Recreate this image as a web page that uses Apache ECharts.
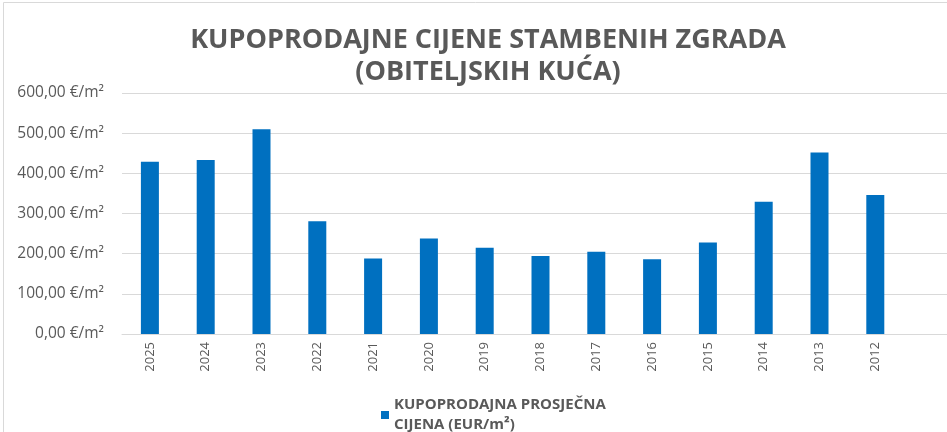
<!DOCTYPE html>
<html lang="hr">
<head>
  <meta charset="UTF-8">
  <title>Kupoprodajne cijene</title>
  <script src="https://cdn.jsdelivr.net/npm/echarts@6/dist/echarts.min.js"></script>
  <style>
    body { margin: 0; background: #fff; }
    #chart { width: 947px; height: 432px; }
  </style>
</head>
<body>
  <div id="chart"></div>
  <script>
    // godine i cijene (EUR/m2), ocitano sa slike
    const years = ['2025', '2024', '2023', '2022', '2021', '2020', '2019', '2018', '2017', '2016', '2015', '2014', '2013', '2012', '']
    const prices = [429, 433, 510, 281, 188, 238, 215, 194, 205, 186, 228, 329, 452, 346, null]
    const seriesName = 'KUPOPRODAJNA PROSJEČNA\nCIJENA (EUR/m²)'

    const myChart = echarts.init(document.getElementById('chart'))
    const grey = '#595959'

    myChart.setOption({
      animation: false,
      title: {
        text: 'KUPOPRODAJNE CIJENE STAMBENIH ZGRADA\n(OBITELJSKIH KUĆA)',
        left: 483,
        top: 19,
        textAlign: 'center',
        textStyle: {
          fontFamily: 'Open Sans',
          fontWeight: 'bold',
          fontSize: 27,
          lineHeight: 32,
          color: grey
        }
      },
      graphic: [{
        type: 'rect',
        shape: { x: 3.5, y: 2.5, width: 960, height: 440 },
        style: { fill: 'none', stroke: '#d9d9d9', lineWidth: 1 },
        silent: true
      }],
      legend: {
        left: 376,
        top: 390,
        itemWidth: 8,
        itemHeight: 8,
        itemGap: 6,
        icon: 'rect',
        textStyle: {
          fontFamily: 'Open Sans',
          fontWeight: 'bold',
          fontSize: 15,
          lineHeight: 20,
          color: grey
        },
        data: [seriesName]
      },
      grid: {
        left: 122,
        right: -12,
        top: 93,
        bottom: 98,
        outerBoundsMode: 'none'
      },
      xAxis: {
        type: 'category',
        data: years,
        axisTick: { show: false },
        axisLine: { lineStyle: { color: '#d9d9d9' } },
        axisLabel: {
          rotate: 90,
          interval: 0,
          margin: 8,
          fontFamily: 'Open Sans',
          fontSize: 13,
          color: grey
        }
      },
      yAxis: {
        type: 'value',
        min: 0,
        max: 600,
        interval: 100,
        axisLabel: {
          margin: 18,
          fontFamily: 'Open Sans',
          fontSize: 15.5,
          color: grey,
          formatter: v => v.toFixed(2).replace('.', ',') + ' €/m²'
        },
        splitLine: { lineStyle: { color: '#d9d9d9' } }
      },
      series: [{
        name: seriesName,
        type: 'bar',
        barWidth: 18,
        itemStyle: { color: '#0070C0' },
        data: prices
      }]
    })
  </script>
</body>
</html>
